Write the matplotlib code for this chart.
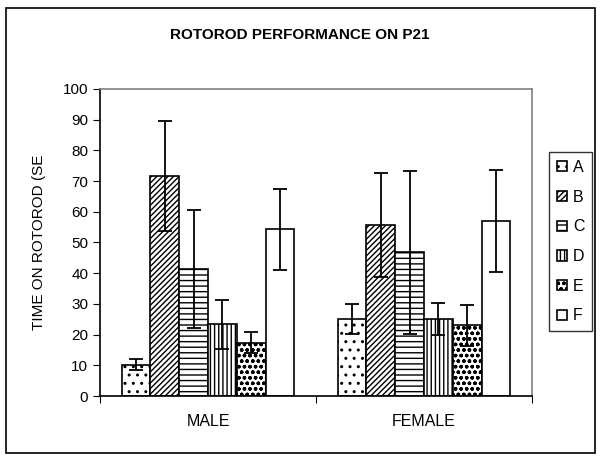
import numpy as np
import matplotlib.pyplot as plt
from matplotlib.patches import Rectangle

plt.rcParams['font.family'] = ['Liberation Sans', 'DejaVu Sans']
plt.rcParams['hatch.linewidth'] = 1.0

# dados
grupos = ['MALE', 'FEMALE']
series = ['A', 'B', 'C', 'D', 'E', 'F']
media = np.array([[10.2, 71.6, 41.4, 23.4, 17.4, 54.3],
                  [25.2, 55.8, 46.8, 25.2, 23.0, 57.0]])
erro = np.array([[1.8, 17.9, 19.1, 8.0, 3.4, 13.1],
                 [4.9, 17.0, 26.5, 5.2, 6.6, 16.5]])
hachuras = ['..', '//////', '---', '||||', 'ooo', '']

fig = plt.figure(figsize=(6.01, 4.61), dpi=100)
fig.patches.append(Rectangle((6/601, 1-453/461), 589/601, 445/461,
                             transform=fig.transFigure, fill=False,
                             edgecolor='black', linewidth=1.2))
ax = fig.add_axes([100/601, 1-396/461, 432/601, 307/461])

n = len(series)
larg = 0.8 / n
x = np.arange(len(grupos)) + 0.5
for i in range(n):
    pos = x - 0.4 + larg*(i + 0.5)
    ax.bar(pos, media[:, i], width=larg, color='white', edgecolor='black',
           hatch=hachuras[i], linewidth=1.2, label=series[i],
           yerr=erro[:, i], capsize=5,
           error_kw=dict(ecolor='black', elinewidth=1.3, capthick=1.3))

ax.set_xlim(0, 2)
ax.set_ylim(0, 100)
ax.set_yticks(np.arange(0, 101, 10))
ax.set_xticks([0, 1, 2])
ax.set_xticklabels([])
ax.set_xticks(x, minor=True)
ax.set_xticklabels(grupos, minor=True)
ax.tick_params(axis='x', which='minor', length=0, pad=13, labelsize=11.5)
ax.tick_params(axis='x', which='major', length=5, direction='out')
ax.tick_params(axis='y', length=5, direction='out', labelsize=11)
ax.spines['top'].set_color('gray')
ax.spines['right'].set_color('gray')
for s in ax.spines.values():
    s.set_linewidth(1.2)

ax.set_ylabel('TIME ON ROTOROD (SE', fontsize=11, labelpad=12)
fig.text(300/601, 1-35/461, 'ROTOROD PERFORMANCE ON P21', ha='center',
         va='center', fontsize=11, fontweight='bold')

leg = fig.legend(loc='upper left', bbox_to_anchor=(549/601, 1-152/461),
                 frameon=True, fancybox=False, edgecolor='black',
                 fontsize=11.5, handlelength=0.6, handleheight=0.6,
                 handletextpad=0.4, labelspacing=0.92, borderpad=0.5,
                 borderaxespad=0)
leg.get_frame().set_linewidth(1.0)

fig.savefig('out.png', dpi=100)
